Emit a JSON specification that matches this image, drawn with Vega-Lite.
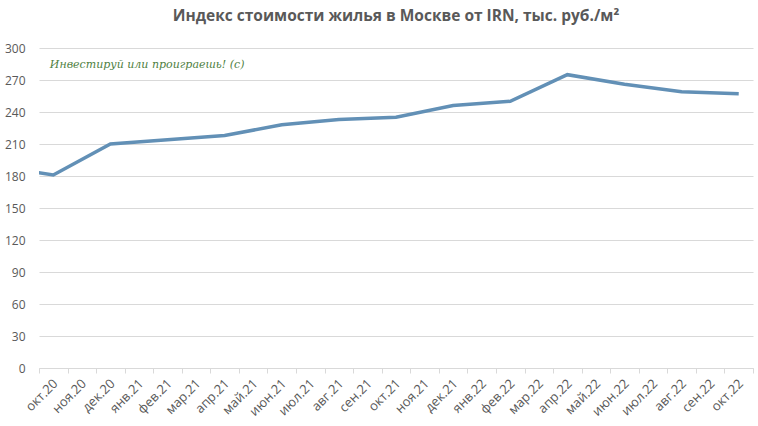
{
  "$schema": "https://vega.github.io/schema/vega-lite/v6.json",
  "autosize": {"type": "none"},
  "width": 714,
  "height": 320,
  "padding": {"left": 39, "top": 48, "right": 5, "bottom": 58},
  "background": "#ffffff",
  "title": {
    "text": "Индекс стоимости жилья в Москве от IRN, тыс. руб./м²",
    "font": "Open Sans",
    "fontSize": 15.5,
    "fontWeight": "bold",
    "color": "#595959",
    "anchor": "middle",
    "offset": 18
  },
  "encoding": {
    "x": {
      "field": "idx",
      "type": "quantitative",
      "scale": {"domain": [-0.5, 24.5], "nice": false, "zero": false},
      "axis": {
        "title": null,
        "grid": false,
        "values": [-0.5, 0.5, 1.5, 2.5, 3.5, 4.5, 5.5, 6.5, 7.5, 8.5, 9.5, 10.5, 11.5, 12.5, 13.5, 14.5, 15.5, 16.5, 17.5, 18.5, 19.5, 20.5, 21.5, 22.5, 23.5, 24.5],
        "labelExpr": "datum.value > 24 ? '' : ['окт.20','ноя.20','дек.20','янв.21','фев.21','мар.21','апр.21','май.21','июн.21','июл.21','авг.21','сен.21','окт.21','ноя.21','дек.21','янв.22','фев.22','мар.22','апр.22','май.22','июн.22','июл.22','авг.22','сен.22','окт.22'][round(datum.value + 0.5)]",
        "labelAngle": -45,
        "labelOffset": 12,
        "labelPadding": 4,
        "labelFont": "Open Sans",
        "labelFontSize": 13,
        "labelColor": "#595959",
        "labelOverlap": false,
        "labelBound": false,
        "labelFlush": false,
        "domainColor": "#d9d9d9",
        "tickColor": "#d9d9d9",
        "tickSize": 5
      }
    },
    "y": {
      "field": "value",
      "type": "quantitative",
      "scale": {"domain": [0, 300], "nice": false},
      "axis": {
        "title": null,
        "values": [0, 30, 60, 90, 120, 150, 180, 210, 240, 270, 300],
        "domain": false,
        "ticks": false,
        "labelOverlap": false,
        "labelPadding": 14,
        "labelFont": "Open Sans",
        "labelFontSize": 12,
        "labelColor": "#595959",
        "gridColor": "#d9d9d9"
      }
    }
  },
  "layer": [
    {
      "data": {
        "values": [
          {"month": "авг.20", "idx": -2, "value": 189},
          {"month": "окт.20", "idx": 0, "value": 181},
          {"month": "дек.20", "idx": 2, "value": 210},
          {"month": "фев.21", "idx": 4, "value": 214},
          {"month": "апр.21", "idx": 6, "value": 218},
          {"month": "июн.21", "idx": 8, "value": 228},
          {"month": "авг.21", "idx": 10, "value": 233},
          {"month": "окт.21", "idx": 12, "value": 235},
          {"month": "дек.21", "idx": 14, "value": 246},
          {"month": "фев.22", "idx": 16, "value": 250},
          {"month": "апр.22", "idx": 18, "value": 275},
          {"month": "июн.22", "idx": 20, "value": 266},
          {"month": "авг.22", "idx": 22, "value": 259},
          {"month": "окт.22", "idx": 24, "value": 257}
        ]
      },
      "mark": {"type": "line", "clip": true, "color": "#6290b6", "strokeWidth": 3.5}
    },
    {
      "data": {"values": [{"note": "Инвестируй или проиграешь! (с)", "idx": -0.12, "value": 284}]},
      "mark": {
        "type": "text",
        "align": "left",
        "baseline": "middle",
        "font": "DejaVu Serif",
        "fontStyle": "italic",
        "fontSize": 11,
        "color": "#4f7f3f"
      },
      "encoding": {
        "text": {"field": "note"}
      }
    }
  ],
  "config": {"view": {"stroke": null}}
}
